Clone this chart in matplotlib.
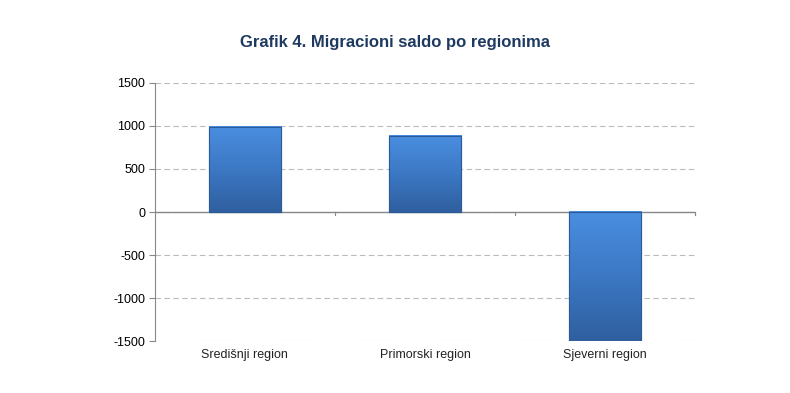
import numpy as np
import matplotlib
matplotlib.use('Agg')
import matplotlib.pyplot as plt
from matplotlib.colors import LinearSegmentedColormap

plt.rcParams['font.family'] = ['Liberation Sans', 'DejaVu Sans']
plt.rcParams['axes.unicode_minus'] = False

regions = ['Središnji region', 'Primorski region', 'Sjeverni region']
saldo = [990, 885, -1850]

fig = plt.figure(figsize=(7.9, 3.93), dpi=100)
ax = fig.add_axes([0.196, 0.132, 0.684, 0.657])
ymin, ymax = -1500, 1500

idx = np.arange(len(regions))
bars = ax.bar(idx, saldo, width=0.4, color='#3D7BCB', edgecolor='#2B5C99',
              linewidth=0.8, zorder=3)

# vertical gradient inside each bar, light on top, dark at the bottom
cmap = LinearSegmentedColormap.from_list('b', ['#4A8EE0', '#3C78C4', '#2F5F9F'])
grad = np.linspace(0, 1, 100).reshape(-1, 1)
for b in bars:
    x0, y0 = b.get_x(), b.get_y()
    w, h = b.get_width(), b.get_height()
    lo, hi = max(min(y0, y0 + h), ymin), min(max(y0, y0 + h), ymax)
    ax.imshow(grad, cmap=cmap, aspect='auto', extent=(x0, x0 + w, lo, hi),
              zorder=3.5, interpolation='bicubic')
    ax.bar(b.get_x() + w / 2, h, width=w, fill=False, edgecolor='#2B5C99',
           linewidth=0.8, zorder=4)

ax.set_xlim(-0.5, len(regions) - 0.5)
ax.set_ylim(ymin, ymax)
ax.set_yticks(range(ymin, ymax + 1, 500))
ax.tick_params(axis='y', labelsize=9, length=4, color='#888888', pad=3)

ax.set_xticks(idx)
ax.set_xticklabels(regions, fontsize=9, color='#222222')
ax.tick_params(axis='x', length=0, pad=6)
# category boundary ticks on the zero line
for xb in np.arange(0.5, len(regions) - 0.5 + 1e-9, 1.0):
    ax.plot([xb, xb], [0, -40], color='#888888', lw=0.8, zorder=2, clip_on=False)
ax.plot([len(regions) - 0.5] * 2, [0, -40], color='#888888', lw=0.8, zorder=2, clip_on=False)

ax.axhline(0, color='#888888', lw=1.0, zorder=2)
ax.grid(axis='y', linestyle=(0, (5, 3)), color='#BBBBBB', lw=0.8, zorder=0)
for s in ['top', 'right', 'bottom']:
    ax.spines[s].set_visible(False)
ax.spines['left'].set_color('#888888')

fig.text(0.5, 0.893, 'Grafik 4. Migracioni saldo po regionima', ha='center',
         va='center', fontsize=12, fontweight='bold', color='#1F3A60')

fig.savefig('out.png', dpi=100)
